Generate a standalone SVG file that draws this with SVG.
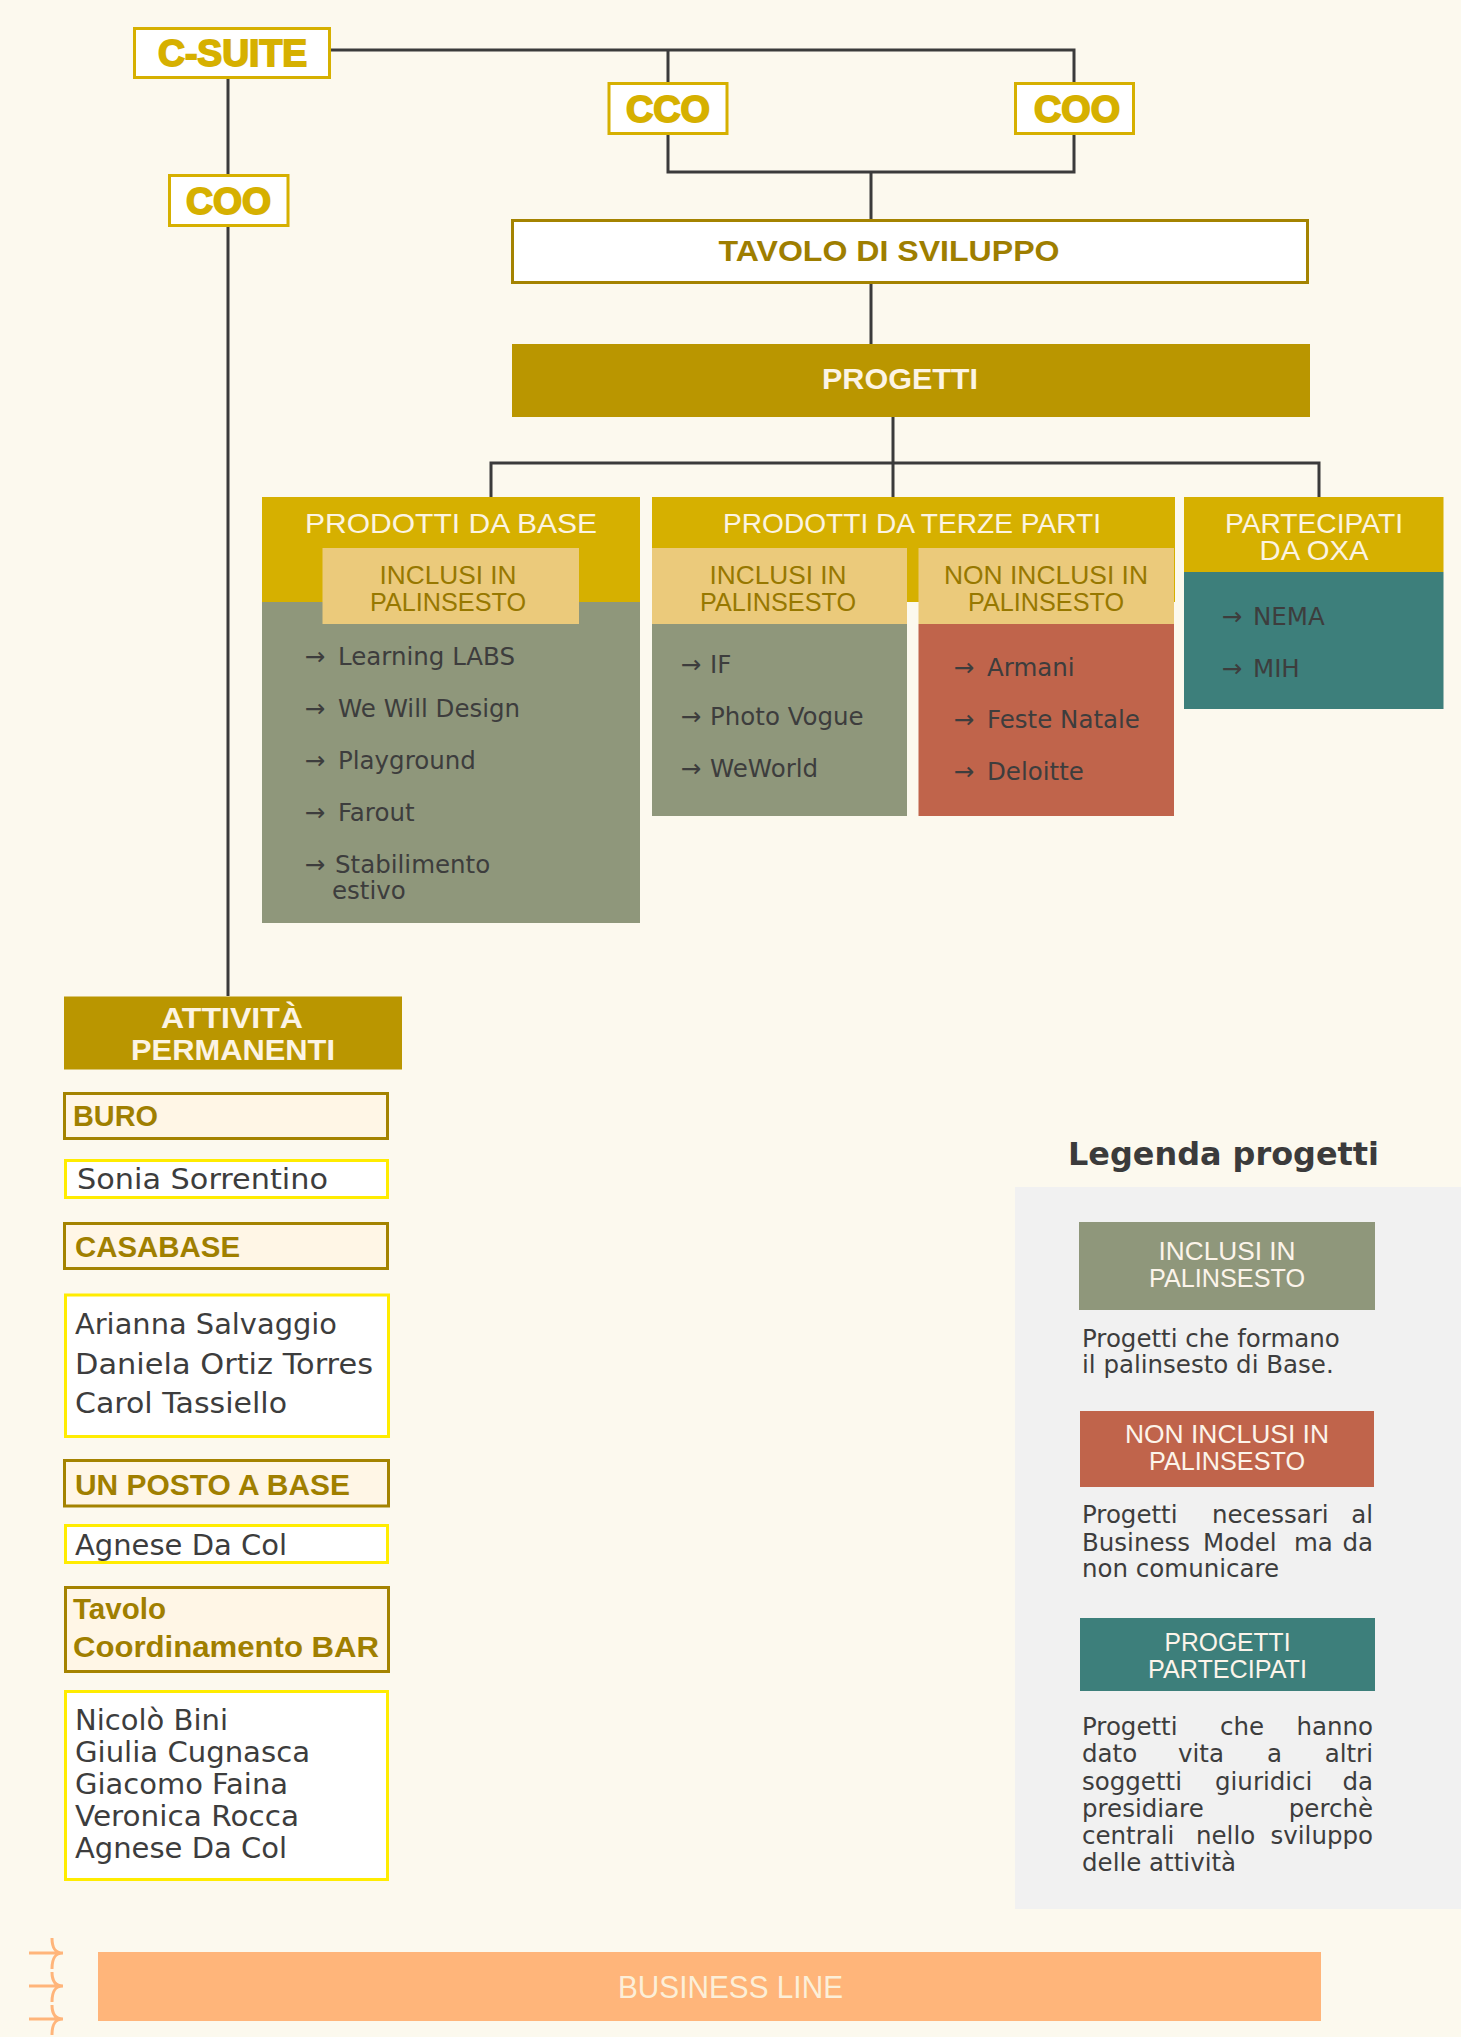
<svg xmlns="http://www.w3.org/2000/svg" width="1461" height="2037" viewBox="0 0 1461 2037">
<style>
.ln{stroke:#3b3b3b;stroke-width:3;fill:none}
.ex{fill:#fff;stroke:#D6B000;stroke-width:3}
.ext{font-family:"Liberation Sans",Arial,sans-serif;font-weight:bold;font-size:37px;fill:#D6B000;stroke:#D6B000;stroke-width:1.8;text-anchor:middle}
.bt{font-family:"Liberation Sans",Arial,sans-serif;font-weight:bold;font-size:30px;text-anchor:middle}
.hd{fill:#D6B000}
.hdt{font-family:"Liberation Sans",Arial,sans-serif;font-size:28px;fill:#FCF4E2;text-anchor:middle}
.sb{fill:#EBCA7B}
.sbt{font-family:"Liberation Sans",Arial,sans-serif;font-size:25.5px;fill:#977800;text-anchor:middle}
.it{font-family:"DejaVu Sans",sans-serif;font-size:24.5px;fill:#3d3d3d}
.sec{fill:#FFF6E6;stroke:#A48300;stroke-width:3}
.sect{font-family:"Liberation Sans",Arial,sans-serif;font-weight:bold;font-size:29px;fill:#A07F00}
.nm{fill:#fff;stroke:#FFEC00;stroke-width:3}
.nmt{font-family:"DejaVu Sans",sans-serif;font-size:28px;fill:#3d3d3d}
.lgt{font-family:"Liberation Sans",Arial,sans-serif;font-size:25.5px;fill:#FCF4EA;text-anchor:middle}
.ds{font-family:"DejaVu Sans",sans-serif;font-size:24.5px;fill:#3d3d3d}
.ar{stroke:#FFB57A;stroke-width:3;fill:none}
</style>
<rect width="1461" height="2037" fill="#FCF9EE"/>

<g id="connectors">
<path class="ln" d="M331,50 H1074 V82"/>
<path class="ln" d="M668,50 V82"/>
<path class="ln" d="M668,135 V172 H1074 V135"/>
<path class="ln" d="M871,172 V219"/>
<path class="ln" d="M871,284 V344"/>
<path class="ln" d="M893,417 V463"/>
<path class="ln" d="M491,497 V463 H1319 V497"/>
<path class="ln" d="M893,463 V497"/>
<path class="ln" d="M228,79 V174"/>
<path class="ln" d="M228,227 V996"/>
</g>

<g id="csuite">
<rect class="ex" x="134.5" y="28.5" width="195" height="49"/>
<text class="ext" x="232.5" y="65.5" textLength="149" lengthAdjust="spacingAndGlyphs">C-SUITE</text>
</g>
<g id="cco">
<rect class="ex" x="609" y="83.5" width="118" height="50"/>
<text class="ext" x="668" y="122" textLength="84" lengthAdjust="spacingAndGlyphs">CCO</text>
</g>
<g id="coo-top">
<rect class="ex" x="1015.5" y="83.5" width="118" height="50"/>
<text class="ext" x="1077" y="122" textLength="86" lengthAdjust="spacingAndGlyphs">COO</text>
</g>
<g id="coo-left">
<rect class="ex" x="169.5" y="175.5" width="118.5" height="50"/>
<text class="ext" x="228.5" y="214" textLength="85" lengthAdjust="spacingAndGlyphs">COO</text>
</g>

<g id="tavolo-sviluppo">
<rect x="512.5" y="220.5" width="795" height="62" fill="#fff" stroke="#A48300" stroke-width="3"/>
<text class="bt" x="889" y="261" fill="#9E7E00" textLength="341" lengthAdjust="spacingAndGlyphs">TAVOLO DI SVILUPPO</text>
</g>
<g id="progetti">
<rect x="512" y="344" width="798" height="73" fill="#BA9600"/>
<text class="bt" x="900" y="389" fill="#FCF4E4" textLength="156" lengthAdjust="spacingAndGlyphs">PROGETTI</text>
</g>

<g id="prodotti-base">
<rect class="hd" x="262" y="497" width="378" height="105"/>
<rect x="262" y="602" width="378" height="321" fill="#8F977B"/>
<text class="hdt" x="451" y="533" textLength="292" lengthAdjust="spacingAndGlyphs">PRODOTTI DA BASE</text>
<rect class="sb" x="322.5" y="548" width="256.5" height="76"/>
<text class="sbt" x="448" y="584" textLength="137" lengthAdjust="spacingAndGlyphs">INCLUSI IN</text>
<text class="sbt" x="448" y="611" textLength="156" lengthAdjust="spacingAndGlyphs">PALINSESTO</text>
<text class="it" y="665"><tspan x="305">→</tspan><tspan x="338">Learning LABS</tspan></text>
<text class="it" y="717"><tspan x="305">→</tspan><tspan x="338">We Will Design</tspan></text>
<text class="it" y="769"><tspan x="305">→</tspan><tspan x="338">Playground</tspan></text>
<text class="it" y="821"><tspan x="305">→</tspan><tspan x="338">Farout</tspan></text>
<text class="it" y="873"><tspan x="305">→</tspan><tspan x="335">Stabilimento</tspan><tspan x="332" y="899">estivo</tspan></text>
</g>

<g id="prodotti-terze-parti">
<rect class="hd" x="652" y="497" width="523" height="105"/>
<text class="hdt" x="912" y="533" textLength="378" lengthAdjust="spacingAndGlyphs">PRODOTTI DA TERZE PARTI</text>
<rect class="sb" x="652" y="548" width="255" height="76"/>
<rect x="652" y="624" width="255" height="192" fill="#8F977B"/>
<text class="sbt" x="778" y="584" textLength="137" lengthAdjust="spacingAndGlyphs">INCLUSI IN</text>
<text class="sbt" x="778" y="611" textLength="156" lengthAdjust="spacingAndGlyphs">PALINSESTO</text>
<text class="it" y="673"><tspan x="681">→</tspan><tspan x="710">IF</tspan></text>
<text class="it" y="725"><tspan x="681">→</tspan><tspan x="710">Photo Vogue</tspan></text>
<text class="it" y="777"><tspan x="681">→</tspan><tspan x="710">WeWorld</tspan></text>
<rect class="sb" x="918.5" y="548" width="255.5" height="76"/>
<rect x="918.5" y="624" width="255.5" height="192" fill="#C0644B"/>
<text class="sbt" x="1046" y="584" textLength="204" lengthAdjust="spacingAndGlyphs">NON INCLUSI IN</text>
<text class="sbt" x="1046" y="611" textLength="156" lengthAdjust="spacingAndGlyphs">PALINSESTO</text>
<text class="it" y="676"><tspan x="954">→</tspan><tspan x="987">Armani</tspan></text>
<text class="it" y="728"><tspan x="954">→</tspan><tspan x="987">Feste Natale</tspan></text>
<text class="it" y="780"><tspan x="954">→</tspan><tspan x="987">Deloitte</tspan></text>
</g>

<g id="partecipati-oxa">
<rect class="hd" x="1184" y="497" width="259.5" height="75"/>
<rect x="1184" y="572" width="259.5" height="137" fill="#3D7F7B"/>
<text class="hdt" x="1314" y="533" textLength="178" lengthAdjust="spacingAndGlyphs">PARTECIPATI</text>
<text class="hdt" x="1314" y="560" textLength="109" lengthAdjust="spacingAndGlyphs">DA OXA</text>
<text class="it" y="625"><tspan x="1222">→</tspan><tspan x="1253">NEMA</tspan></text>
<text class="it" y="677"><tspan x="1222">→</tspan><tspan x="1253">MIH</tspan></text>
</g>

<g id="attivita-permanenti">
<rect x="64" y="996.5" width="338" height="73" fill="#BA9600"/>
<text class="bt" x="232" y="1028" fill="#FCF4E4" textLength="142" lengthAdjust="spacingAndGlyphs">ATTIVITÀ</text>
<text class="bt" x="233" y="1060" fill="#FCF4E4" textLength="204" lengthAdjust="spacingAndGlyphs">PERMANENTI</text>
</g>

<g id="buro">
<rect class="sec" x="64.5" y="1093.5" width="323" height="45"/>
<text class="sect" x="73" y="1126" textLength="85" lengthAdjust="spacingAndGlyphs">BURO</text>
</g>
<g id="buro-team">
<rect class="nm" x="65.5" y="1160.5" width="322" height="37"/>
<text class="nmt" x="77" y="1189" textLength="251" lengthAdjust="spacingAndGlyphs">Sonia Sorrentino</text>
</g>
<g id="casabase">
<rect class="sec" x="64.5" y="1223.5" width="323" height="45"/>
<text class="sect" x="75" y="1256.5" textLength="165" lengthAdjust="spacingAndGlyphs">CASABASE</text>
</g>
<g id="casabase-team">
<rect class="nm" x="65.5" y="1295" width="323" height="141.5"/>
<text class="nmt" x="75" y="1334" textLength="262" lengthAdjust="spacingAndGlyphs">Arianna Salvaggio</text>
<text class="nmt" x="75" y="1374" textLength="298" lengthAdjust="spacingAndGlyphs">Daniela Ortiz Torres</text>
<text class="nmt" x="75" y="1413" textLength="212" lengthAdjust="spacingAndGlyphs">Carol Tassiello</text>
</g>
<g id="un-posto-a-base">
<rect class="sec" x="64.5" y="1460.5" width="324" height="45.5"/>
<text class="sect" x="75" y="1494.5" textLength="275" lengthAdjust="spacingAndGlyphs">UN POSTO A BASE</text>
</g>
<g id="un-posto-team">
<rect class="nm" x="65.5" y="1525.5" width="322" height="37"/>
<text class="nmt" x="75" y="1555" textLength="212" lengthAdjust="spacingAndGlyphs">Agnese Da Col</text>
</g>
<g id="tavolo-bar">
<rect class="sec" x="65.5" y="1587.5" width="323" height="84" stroke-width="5"/>
<text class="sect" x="73" y="1619" textLength="93" lengthAdjust="spacingAndGlyphs">Tavolo</text>
<text class="sect" x="73" y="1657" textLength="306" lengthAdjust="spacingAndGlyphs">Coordinamento BAR</text>
</g>
<g id="tavolo-bar-team">
<rect class="nm" x="65.5" y="1691.5" width="322" height="188"/>
<text class="nmt" x="75" y="1730" textLength="153" lengthAdjust="spacingAndGlyphs">Nicolò Bini</text>
<text class="nmt" x="75" y="1762" textLength="235" lengthAdjust="spacingAndGlyphs">Giulia Cugnasca</text>
<text class="nmt" x="75" y="1794" textLength="213" lengthAdjust="spacingAndGlyphs">Giacomo Faina</text>
<text class="nmt" x="75" y="1826" textLength="224" lengthAdjust="spacingAndGlyphs">Veronica Rocca</text>
<text class="nmt" x="75" y="1858" textLength="212" lengthAdjust="spacingAndGlyphs">Agnese Da Col</text>
</g>

<g id="legenda">
<text x="1068" y="1165" font-family="'DejaVu Sans',sans-serif" font-weight="bold" font-size="32" fill="#3b3b3b" textLength="311" lengthAdjust="spacingAndGlyphs">Legenda progetti</text>
<rect x="1015" y="1187" width="446" height="722" fill="#F1F1F1"/>
<rect x="1079" y="1222" width="296" height="88" fill="#8F977B"/>
<text class="lgt" x="1227" y="1260" textLength="137" lengthAdjust="spacingAndGlyphs">INCLUSI IN</text>
<text class="lgt" x="1227" y="1287" textLength="156" lengthAdjust="spacingAndGlyphs">PALINSESTO</text>
<text class="ds" x="1082" y="1346.5">Progetti che formano</text>
<text class="ds" x="1082" y="1373">il palinsesto di Base.</text>
<rect x="1080" y="1411" width="294" height="76" fill="#C0644B"/>
<text class="lgt" x="1227" y="1442.5" textLength="204" lengthAdjust="spacingAndGlyphs">NON INCLUSI IN</text>
<text class="lgt" x="1227" y="1470" textLength="156" lengthAdjust="spacingAndGlyphs">PALINSESTO</text>
<text class="ds" y="1523"><tspan x="1082">Progetti </tspan><tspan x="1212">necessari </tspan><tspan x="1373" text-anchor="end">al</tspan></text>
<text class="ds" y="1550.5"><tspan x="1082">Business </tspan><tspan x="1203">Model </tspan><tspan x="1294">ma </tspan><tspan x="1373" text-anchor="end">da</tspan></text>
<text class="ds" x="1082" y="1577">non comunicare</text>
<rect x="1080" y="1618" width="295" height="73" fill="#3D7F7B"/>
<text class="lgt" x="1227.5" y="1650.5" textLength="126" lengthAdjust="spacingAndGlyphs">PROGETTI</text>
<text class="lgt" x="1227.5" y="1677.5" textLength="159" lengthAdjust="spacingAndGlyphs">PARTECIPATI</text>
<text class="ds" y="1735"><tspan x="1082">Progetti </tspan><tspan x="1220">che </tspan><tspan x="1373" text-anchor="end">hanno</tspan></text>
<text class="ds" y="1762"><tspan x="1082">dato </tspan><tspan x="1178">vita </tspan><tspan x="1267">a </tspan><tspan x="1373" text-anchor="end">altri</tspan></text>
<text class="ds" y="1789.5"><tspan x="1082">soggetti </tspan><tspan x="1215">giuridici </tspan><tspan x="1373" text-anchor="end">da</tspan></text>
<text class="ds" y="1816.5"><tspan x="1082">presidiare </tspan><tspan x="1373" text-anchor="end">perchè</tspan></text>
<text class="ds" y="1844"><tspan x="1082">centrali </tspan><tspan x="1196">nello </tspan><tspan x="1373" text-anchor="end">sviluppo</tspan></text>
<text class="ds" x="1082" y="1870.5">delle attività</text>
</g>

<g id="business-line">
<path class="ar" d="M29,1953 H63 M52,1938 C52,1948 55,1953 63,1953 C55,1953 52,1958 52,1969"/>
<path class="ar" d="M29,1986 H63 M52,1972 C52,1981 55,1986 63,1986 C55,1986 52,1991 52,2002"/>
<path class="ar" d="M29,2019 H63 M52,2005 C52,2014 55,2019 63,2019 C55,2019 52,2024 52,2035"/>
<rect x="98" y="1952" width="1223" height="69" fill="#FFB57A"/>
<text x="730.5" y="1997.5" font-family="'Liberation Sans',Arial,sans-serif" font-size="31" fill="#FCEFD8" text-anchor="middle" textLength="225" lengthAdjust="spacingAndGlyphs">BUSINESS LINE</text>
</g>
</svg>
